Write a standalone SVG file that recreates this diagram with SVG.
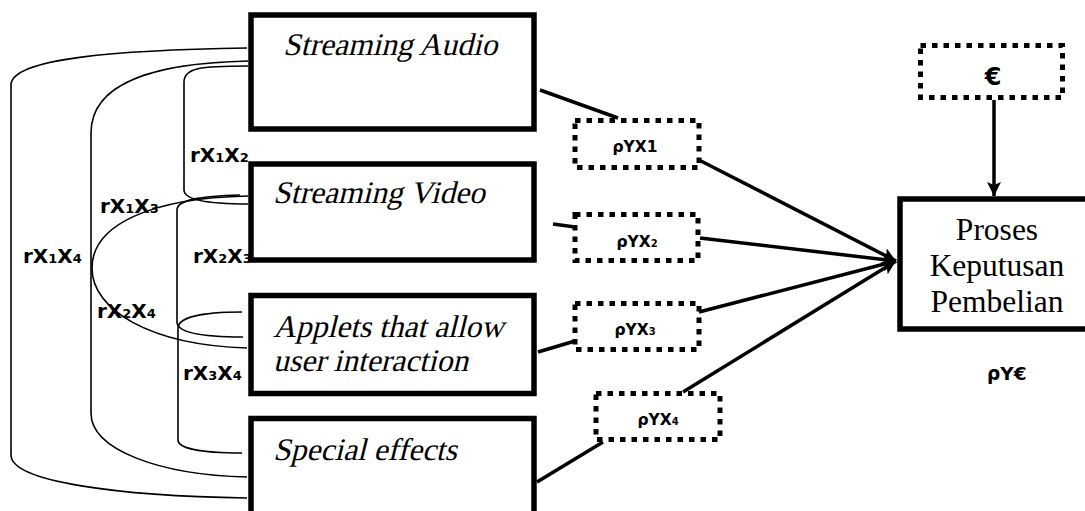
<svg xmlns="http://www.w3.org/2000/svg" width="1085" height="511" viewBox="0 0 1085 511">
  <style>
    .box { fill: #fff; stroke: #000; stroke-width: 5.5; }
    .dot { fill: none; stroke: #000; stroke-width: 5; stroke-dasharray: 5.5 6; }
    .ital { font-size: 31.5px; fill: #000; }
    .serif { font-size: 31.5px; fill: #000; text-anchor: middle; }
    .corr { font-weight: bold; font-size: 20px; fill: #000; }
    .coef { font-weight: bold; font-size: 15.5px; fill: #000; text-anchor: middle; }
    .sub { font-size: 13px; }
    .curve { fill: none; stroke: #000; stroke-width: 1.6; }
    .link { fill: none; stroke: #000; stroke-width: 3.5; }
  </style>
  <defs>
    <marker id="head" markerUnits="userSpaceOnUse" markerWidth="16" markerHeight="16" refX="14" refY="7" orient="auto">
      <path d="M0,0 L14,7 L0,14 L3,7 Z" fill="#000"/>
    </marker>
  </defs>

  <rect width="1085" height="511" fill="#fff"/>

  <!-- correlation curves between the exogenous variables -->
  <g id="correlations">
    <path class="curve" d="M247,48 C120,50 11,58 11,85 L11,455 C11,482 120,496 247,498"/>
    <path class="curve" d="M248,61 C160,63 91,80 91,133 L91,413 C91,450 160,475 247,477"/>
    <path class="curve" d="M248,196 C150,198 92,225 92,268 C92,310 150,345 247,348"/>
    <path class="curve" d="M248,66 C200,66 184,68 184,82 L184,190 C184,198 200,204 248,204"/>
    <path class="curve" d="M240,195 C200,196 177,200 177,210 L177,322 C177,332 200,337 243,337"/>
    <path class="curve" d="M242,312 C200,312 178,318 178,328 L178,440 C178,448 200,453 242,453"/>
    <g font-family="DejaVu Sans, Verdana, sans-serif">
      <text class="corr" x="190" y="162">rX<tspan class="sub">1</tspan>X<tspan class="sub">2</tspan></text>
      <text class="corr" x="100" y="213">rX<tspan class="sub">1</tspan>X<tspan class="sub">3</tspan></text>
      <text class="corr" x="23" y="263">rX<tspan class="sub">1</tspan>X<tspan class="sub">4</tspan></text>
      <text class="corr" x="193" y="263">rX<tspan class="sub">2</tspan>X<tspan class="sub">3</tspan></text>
      <text class="corr" x="97" y="318">rX<tspan class="sub">2</tspan>X<tspan class="sub">4</tspan></text>
      <text class="corr" x="183" y="380">rX<tspan class="sub">3</tspan>X<tspan class="sub">4</tspan></text>
    </g>
  </g>

  <!-- path connectors -->
  <g id="connectors">
    <line class="link" x1="540" y1="90" x2="618" y2="118"/>
    <line class="link" x1="553" y1="224" x2="575" y2="227"/>
    <line class="link" x1="538" y1="352" x2="575" y2="341"/>
    <line class="link" x1="537" y1="482" x2="603" y2="442"/>
    <line class="link" x1="699" y1="160" x2="896" y2="261" marker-end="url(#head)"/>
    <line class="link" x1="700" y1="238" x2="896" y2="261" marker-end="url(#head)"/>
    <line class="link" x1="699" y1="312" x2="896" y2="261" marker-end="url(#head)"/>
    <line class="link" x1="683" y1="392" x2="896" y2="261" marker-end="url(#head)"/>
    <line class="link" x1="994" y1="100" x2="994" y2="196" marker-end="url(#head)"/>
  </g>

  <!-- exogenous variables; labels slanted with a skew -->
  <g font-family="Liberation Serif, Times New Roman, serif">
    <g id="x1">
      <rect class="box" x="251" y="15" width="283" height="114"/>
      <text class="ital" transform="translate(283,55) skewX(-14)">Streaming Audio</text>
    </g>
    <g id="x2">
      <rect class="box" x="251" y="164" width="283" height="96"/>
      <text class="ital" transform="translate(273,203) skewX(-14)">Streaming Video</text>
    </g>
    <g id="x3">
      <rect class="box" x="251" y="295.5" width="283" height="98"/>
      <text class="ital" transform="translate(273,337) skewX(-14)">Applets that allow</text>
      <text class="ital" transform="translate(273,371) skewX(-14)">user interaction</text>
    </g>
    <g id="x4">
      <rect class="box" x="251" y="418.5" width="283" height="100"/>
      <text class="ital" transform="translate(273,460) skewX(-14)">Special effects</text>
    </g>

    <g id="y">
      <rect class="box" x="900" y="199" width="200" height="130"/>
      <text class="serif" x="997" y="240">Proses</text>
      <text class="serif" x="997" y="276">Keputusan</text>
      <text class="serif" x="997" y="312">Pembelian</text>
    </g>
  </g>

  <g id="residual">
    <rect class="dot" x="920.5" y="45.5" width="142" height="52"/>
    <text x="993" y="85" font-family="DejaVu Sans, Verdana, sans-serif" font-weight="bold" font-size="24" text-anchor="middle">€</text>
  </g>

  <g font-family="DejaVu Sans, Verdana, sans-serif">
    <g id="p1">
      <rect class="dot" x="575" y="120.5" width="124" height="47"/>
      <text class="coef" x="635" y="152">ρYX1</text>
    </g>
    <g id="p2">
      <rect class="dot" x="575" y="214.5" width="123" height="46"/>
      <text class="coef" x="637" y="247">ρYX<tspan font-size="10">2</tspan></text>
    </g>
    <g id="p3">
      <rect class="dot" x="575" y="303.5" width="124" height="46"/>
      <text class="coef" x="635" y="335">ρYX<tspan font-size="10">3</tspan></text>
    </g>
    <g id="p4">
      <rect class="dot" x="596" y="393.5" width="124" height="46"/>
      <text class="coef" x="658" y="425">ρYX<tspan font-size="10">4</tspan></text>
    </g>
    <g id="pe">
      <text x="987" y="380" font-weight="bold" font-size="18.5">ρY€</text>
    </g>
  </g>
</svg>
